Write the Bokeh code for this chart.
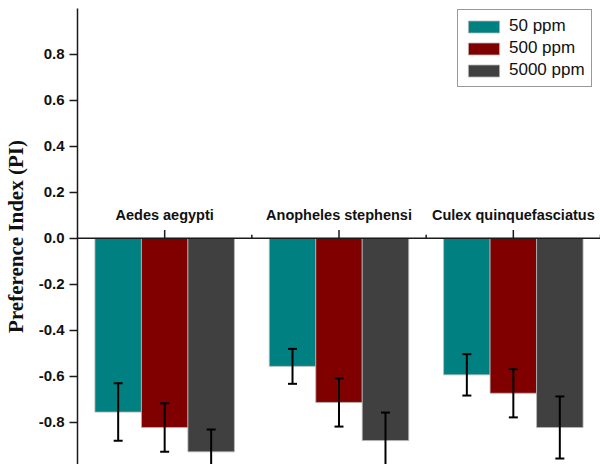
import numpy as np
from bokeh.plotting import figure
from bokeh.models import (Range1d, FixedTicker, NumeralTickFormatter, Span, Whisker,
                          ColumnDataSource, TeeHead, LabelSet, Legend)
from bokeh.core.properties import value
from bokeh.embed import file_html
from bokeh.resources import INLINE

# ---- data ----
species = ["Aedes aegypti", "Anopheles stephensi", "Culex quinquefasciatus"]
doses = ["50 ppm", "500 ppm", "5000 ppm"]
colors = ["#008080", "#800000", "#404040"]
pi_50 = [-0.756, -0.557, -0.594]
pi_500 = [-0.823, -0.714, -0.674]
pi_5000 = [-0.929, -0.880, -0.823]
err_50 = [0.125, 0.076, 0.090]
err_500 = [0.106, 0.105, 0.105]
err_5000 = [0.097, 0.122, 0.135]
y_ticks = [-0.8, -0.6, -0.4, -0.2, 0.0, 0.2, 0.4, 0.6, 0.8]

values = [pi_50, pi_500, pi_5000]
errors = [err_50, err_500, err_5000]

W, H = 600, 464
p = figure(width=W, height=H, output_backend="svg", toolbar_location=None,
           x_range=Range1d(0.0, 3.0), y_range=Range1d(-0.984, 1.0),
           x_axis_location=None, min_border_left=77, min_border_right=0,
           min_border_top=8, min_border_bottom=0)
p.outline_line_color = None
p.grid.visible = False
p.background_fill_color = "white"
p.border_fill_color = "white"

group_idx = np.arange(len(species))
centers = group_idx + 0.5
bw = 0.8 / 3
offsets = [-bw, 0.0, bw]

legend_items = []
for k in range(3):
    xs = centers + offsets[k]
    vals = np.array(values[k])
    errs = np.array(errors[k])
    src = ColumnDataSource(dict(x=xs, top=vals, upper=vals + errs, lower=vals - errs))
    r = p.vbar(x="x", top="top", bottom=0, width=bw, source=src,
               fill_color=colors[k], line_color="#b8b8b8", line_width=0.8)
    legend_items.append((doses[k], [r]))
    w = Whisker(base="x", upper="upper", lower="lower", source=src, level="overlay",
                line_color="black", line_width=2,
                upper_head=TeeHead(size=9, line_width=2, line_color="black"),
                lower_head=TeeHead(size=9, line_width=2, line_color="black"))
    p.add_layout(w)

# zero axis line with ticks
p.add_layout(Span(location=0, dimension="width", line_color="#1a1a1a", line_width=1.5))
p.segment(x0=centers, x1=centers, y0=np.zeros(3), y1=np.full(3, 0.036),
          line_color="#1a1a1a", line_width=1.5)
bounds = group_idx + 1.0
p.segment(x0=bounds, x1=bounds, y0=np.zeros(3), y1=np.full(3, 0.016),
          line_color="#1a1a1a", line_width=1.5)

# category labels above the zero line
lab_src = ColumnDataSource(dict(x=centers, y=np.zeros(3), t=species))
labels = LabelSet(x="x", y="y", text="t", source=lab_src, y_offset=23,
                  text_align="center", text_baseline="middle",
                  text_font=value("Liberation Sans"), text_font_style="bold",
                  text_font_size="14.5px", text_color="#111111")
p.add_layout(labels)

# y axis
ya = p.yaxis[0]
ya.ticker = FixedTicker(ticks=y_ticks)
ya.formatter = NumeralTickFormatter(format="0.0")
ya.minor_tick_line_color = None
ya.major_tick_out = 8
ya.major_tick_in = 0
ya.major_tick_line_width = 1.5
ya.axis_line_width = 1.5
ya.axis_line_color = "#1a1a1a"
ya.major_tick_line_color = "#1a1a1a"
ya.major_label_text_font = "Liberation Sans"
ya.major_label_text_font_style = "bold"
ya.major_label_text_font_size = "15px"
ya.major_label_text_color = "#111111"
ya.major_label_standoff = 5
ya.axis_label = "Preference Index (PI)"
ya.axis_label_text_font = "Liberation Serif"
ya.axis_label_text_font_style = "bold"
ya.axis_label_text_font_size = "21px"
ya.axis_label_text_color = "#111111"
ya.axis_label_standoff = 8

legend = Legend(items=legend_items, location=(380, 377),
                label_text_font="Liberation Sans", label_text_font_size="17px",
                label_text_color="#111111",
                glyph_width=39, glyph_height=15, label_standoff=6,
                spacing=2, padding=6, margin=0,
                border_line_color="#333333", border_line_width=1,
                background_fill_color="white", background_fill_alpha=1.0)
p.add_layout(legend)

open("out.html", "w").write(file_html(p, INLINE))
